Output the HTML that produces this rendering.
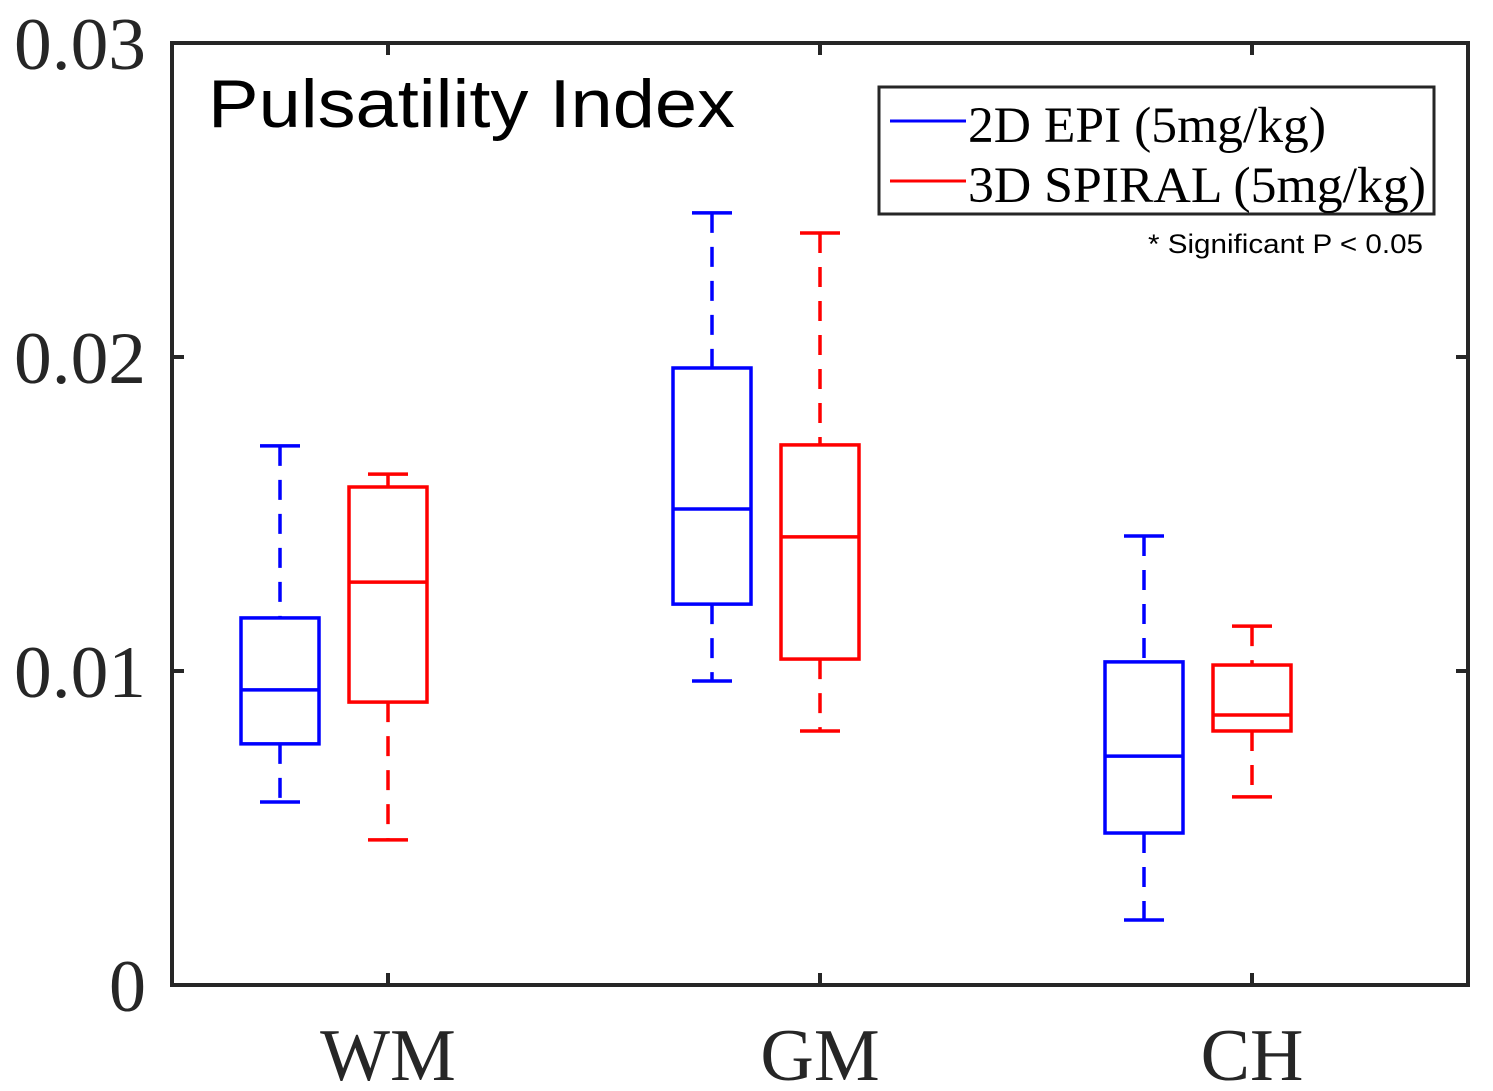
<!DOCTYPE html>
<html><head><meta charset="utf-8"><style>
body{margin:0;background:#fff;}
svg{display:block;}
</style></head><body>
<svg id="chart" width="1493" height="1091" viewBox="0 0 1493 1091" xmlns="http://www.w3.org/2000/svg">
<g id="marks"></g>
<rect x="172" y="43" width="1296" height="942" fill="none" stroke="#262626" stroke-width="4"/>
<g id="axes"></g>
<text x="208" y="127" font-family="Liberation Sans, sans-serif" font-size="68" textLength="527" lengthAdjust="spacingAndGlyphs">Pulsatility Index</text>
<g>
<rect x="879" y="87" width="555" height="127" fill="#fff" stroke="#262626" stroke-width="3"/>
<line x1="890" y1="121" x2="966" y2="121" stroke="#0000ff" stroke-width="3"/>
<text x="968" y="142" font-family="Liberation Serif, serif" font-size="51" textLength="358" lengthAdjust="spacingAndGlyphs">2D EPI (5mg/kg)</text>
<line x1="890" y1="181" x2="966" y2="181" stroke="#ff0000" stroke-width="3"/>
<text x="968" y="202" font-family="Liberation Serif, serif" font-size="51" textLength="458" lengthAdjust="spacingAndGlyphs">3D SPIRAL (5mg/kg)</text>
</g>
<text x="1148" y="253" font-family="Liberation Sans, sans-serif" font-size="27" textLength="275" lengthAdjust="spacingAndGlyphs">* Significant P &lt; 0.05</text>
</svg>
<script>
const categories = ["WM", "GM", "CH"];
const yTicks = [0, 0.01, 0.02, 0.03];
const yTickLabels = ["0", "0.01", "0.02", "0.03"];
// [lowWhisker, q1, median, q3, highWhisker]
const epi = [[0.00583,0.00768,0.0094,0.01169,0.01717],[0.00968,0.01213,0.01516,0.01965,0.02459],[0.00207,0.00484,0.00729,0.01029,0.0143]];
const spiral = [[0.00462,0.00901,0.01283,0.01586,0.01627],[0.00809,0.01038,0.01427,0.0172,0.02395],[0.00599,0.00809,0.0086,0.01019,0.01143]];
const NS="http://www.w3.org/2000/svg";
const L=172,R=1468,T=43,B=985;
function y(v){return B-(v-0)/(0.03-0)*(B-T);}
function x(i){return L+(R-L)/categories.length*(i+0.5);}
const marks=document.getElementById('marks'), axes=document.getElementById('axes');
function el(tag,attrs,parent){const e=document.createElementNS(NS,tag);for(const k in attrs)e.setAttribute(k,attrs[k]);parent.appendChild(e);return e;}
function box(stats,cx,color,name){
  const g=el('g',{},marks);
  
  
  const w=78,cw=40,sw=3.5;
  const [lo,q1,med,q3,hi]=stats;
  el('line',{x1:cx,x2:cx,y1:y(hi),y2:y(q3),stroke:color,'stroke-width':sw,'stroke-dasharray':'20,14'},g);
  el('line',{x1:cx,x2:cx,y1:y(q1),y2:y(lo),stroke:color,'stroke-width':sw,'stroke-dasharray':'20,14'},g);
  el('line',{x1:cx-cw/2,x2:cx+cw/2,y1:y(hi),y2:y(hi),stroke:color,'stroke-width':sw},g);
  el('line',{x1:cx-cw/2,x2:cx+cw/2,y1:y(lo),y2:y(lo),stroke:color,'stroke-width':sw},g);
  el('rect',{x:cx-w/2,y:y(q3),width:w,height:y(q1)-y(q3),fill:'none',stroke:color,'stroke-width':sw},g);
  el('line',{x1:cx-w/2,x2:cx+w/2,y1:y(med),y2:y(med),stroke:color,'stroke-width':sw},g);
}
categories.forEach((c,i)=>{
  box(epi[i],x(i)-108,'#0000ff','box-2d-epi-'+c.toLowerCase());
  box(spiral[i],x(i),'#ff0000','box-3d-spiral-'+c.toLowerCase());
  const t=el('text',{x:x(i),y:1080,'text-anchor':'middle','font-family':'Liberation Serif, serif','font-size':74,fill:'#262626'},axes);
  t.textContent=c;
  
  
  el('line',{x1:x(i),x2:x(i),y1:B,y2:B-12,stroke:'#262626','stroke-width':4},axes);
  el('line',{x1:x(i),x2:x(i),y1:T,y2:T+12,stroke:'#262626','stroke-width':4},axes);
});
yTicks.forEach((v,i)=>{
  el('line',{x1:L,x2:L+12,y1:y(v),y2:y(v),stroke:'#262626','stroke-width':4},axes);
  el('line',{x1:R,x2:R-12,y1:y(v),y2:y(v),stroke:'#262626','stroke-width':4},axes);
  const attrs={x:146,y:y(v)+26,'text-anchor':'end','font-family':'Liberation Serif, serif','font-size':74,fill:'#262626'};
  if(yTickLabels[i].length>1){attrs.textLength=132;attrs.lengthAdjust='spacingAndGlyphs';}
  const t=el('text',attrs,axes);
  t.textContent=yTickLabels[i];
  
  
});
</script>
</body></html>
